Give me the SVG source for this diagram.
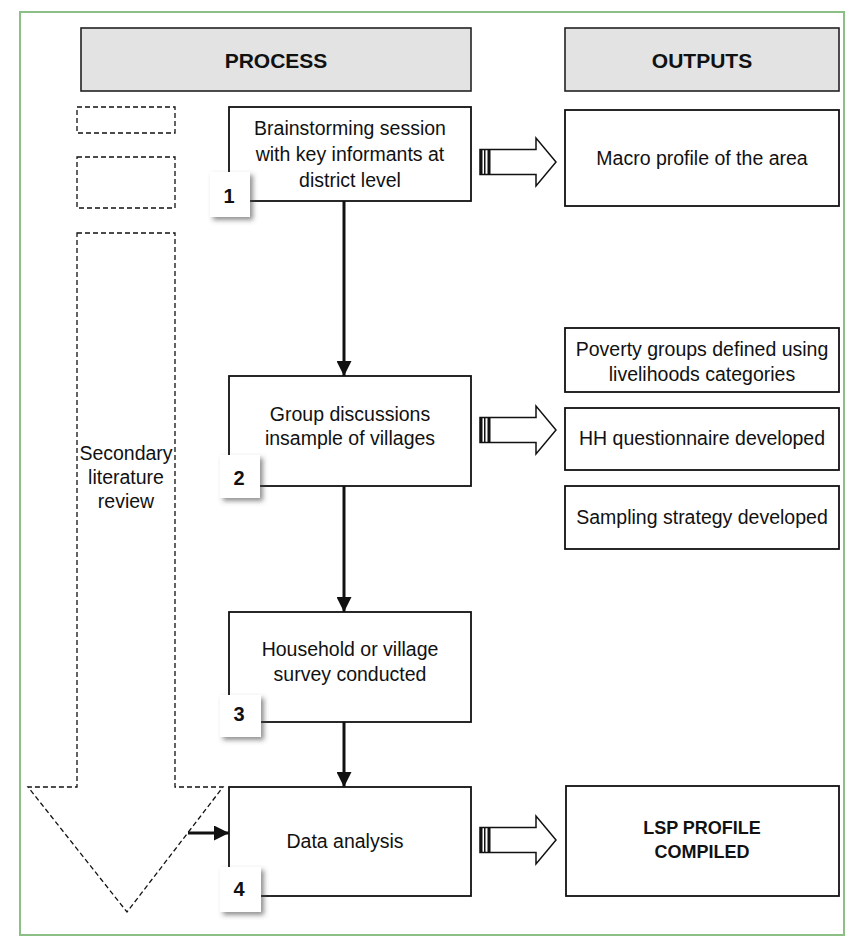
<svg xmlns="http://www.w3.org/2000/svg" width="851" height="940" viewBox="0 0 851 940">
<defs>
<style>
.txt{font-family:"Liberation Sans",Arial,sans-serif;font-size:19.5px;fill:#111;text-anchor:middle}
.bold{font-weight:bold;font-size:18px}
.hdr{font-family:"Liberation Sans",Arial,sans-serif;font-size:21px;font-weight:bold;fill:#111;text-anchor:middle}
.box{fill:#fff;stroke:#111;stroke-width:1.8}
.head{fill:#e3e3e3;stroke:#222;stroke-width:1.6}
.dash{fill:#fff;stroke:#111;stroke-width:1.3;stroke-dasharray:5 3}
.badge{fill:#fff;filter:url(#shadow)}
.num{font-family:"Liberation Sans",Arial,sans-serif;font-size:20px;font-weight:bold;fill:#111;text-anchor:middle}
.conn{stroke:#111;stroke-width:3;fill:none}
.fat{fill:#fff;stroke:#111;stroke-width:1.5}
</style>
<filter id="shadow" x="-30%" y="-30%" width="160%" height="160%">
<feDropShadow dx="3" dy="3" stdDeviation="2.5" flood-color="#444" flood-opacity="0.6"/>
</filter>
<marker id="ah" markerUnits="userSpaceOnUse" markerWidth="15" markerHeight="15" viewBox="0 0 14 14" refX="14" refY="7" orient="auto">
<path d="M0,0 L14,7 L0,14 Z" fill="#111"/>
</marker>
<g id="fatArrow">
<path class="fat" d="M0,-12.5 L56,-12.5 L56,-24 L76,0 L56,24 L56,12.5 L0,12.5 Z"/>
<rect x="0" y="-12.5" width="2.5" height="25" fill="#111"/>
<rect x="4" y="-12.5" width="1.5" height="25" fill="#111"/>
<rect x="7.5" y="-12.5" width="3" height="25" fill="#111"/>
</g>
</defs>
<rect width="851" height="940" fill="#fff"/>
<rect x="20" y="12" width="824" height="923" fill="none" stroke="#8cbf86" stroke-width="2"/>

<g id="header-process">
<rect class="head" x="81" y="28" width="390" height="63"/>
<text class="hdr" x="276" y="68">PROCESS</text>
</g>
<g id="header-outputs">
<rect class="head" x="565" y="28" width="274" height="63"/>
<text class="hdr" x="702" y="68">OUTPUTS</text>
</g>

<g id="dashed-box-1"><rect class="dash" x="77" y="107" width="98" height="26"/></g>
<g id="dashed-box-2"><rect class="dash" x="77" y="157" width="98" height="51"/></g>
<g id="secondary-review">
<path class="dash" d="M77,233 L175,233 L175,787 L223,787 L127,912 L28,787 L77,787 Z"/>
<text class="txt" x="126" y="460">Secondary</text>
<text class="txt" x="126" y="484">literature</text>
<text class="txt" x="126" y="508">review</text>
</g>

<g id="connectors">
<line class="conn" x1="344" y1="201" x2="344" y2="376" marker-end="url(#ah)"/>
<line class="conn" x1="344" y1="486" x2="344" y2="612" marker-end="url(#ah)"/>
<line class="conn" x1="344" y1="722" x2="344" y2="787" marker-end="url(#ah)"/>
<line class="conn" x1="188" y1="833" x2="229" y2="833" marker-end="url(#ah)"/>
<use href="#fatArrow" x="480" y="162"/>
<use href="#fatArrow" x="480" y="430"/>
<use href="#fatArrow" x="480" y="840"/>
</g>

<g id="step-1">
<rect class="box" x="229" y="107" width="242" height="94"/>
<text class="txt" x="350" y="135">Brainstorming session</text>
<text class="txt" x="350" y="161">with key informants at</text>
<text class="txt" x="350" y="187">district level</text>
<rect class="badge" x="210" y="172" width="40" height="45"/>
<text class="num" x="229" y="203">1</text>
</g>
<g id="step-2">
<rect class="box" x="229" y="376" width="242" height="110"/>
<text class="txt" x="350" y="421">Group discussions</text>
<text class="txt" x="350" y="445">insample of villages</text>
<rect class="badge" x="220" y="455" width="40" height="43"/>
<text class="num" x="239" y="485">2</text>
</g>
<g id="step-3">
<rect class="box" x="229" y="612" width="242" height="110"/>
<text class="txt" x="350" y="656">Household or village</text>
<text class="txt" x="350" y="681">survey conducted</text>
<rect class="badge" x="220" y="695" width="41" height="42"/>
<text class="num" x="239" y="721">3</text>
</g>
<g id="step-4">
<rect class="box" x="229" y="787" width="242" height="109"/>
<text class="txt" x="345" y="848">Data analysis</text>
<rect class="badge" x="220" y="867" width="41" height="45"/>
<text class="num" x="239" y="896">4</text>
</g>

<g id="out-macro">
<rect class="box" x="565" y="110" width="274" height="96"/>
<text class="txt" x="702" y="165">Macro profile of the area</text>
</g>
<g id="out-poverty">
<rect class="box" x="565" y="328" width="274" height="64"/>
<text class="txt" x="702" y="356">Poverty groups defined using</text>
<text class="txt" x="702" y="381">livelihoods categories</text>
</g>
<g id="out-hh">
<rect class="box" x="565" y="408" width="274" height="62"/>
<text class="txt" x="702" y="445">HH questionnaire developed</text>
</g>
<g id="out-sampling">
<rect class="box" x="565" y="486" width="274" height="63"/>
<text class="txt" x="702" y="524">Sampling strategy developed</text>
</g>
<g id="out-lsp">
<rect class="box" x="566" y="786" width="273" height="110"/>
<text class="txt bold" x="702" y="834">LSP PROFILE</text>
<text class="txt bold" x="702" y="858">COMPILED</text>
</g>
</svg>
